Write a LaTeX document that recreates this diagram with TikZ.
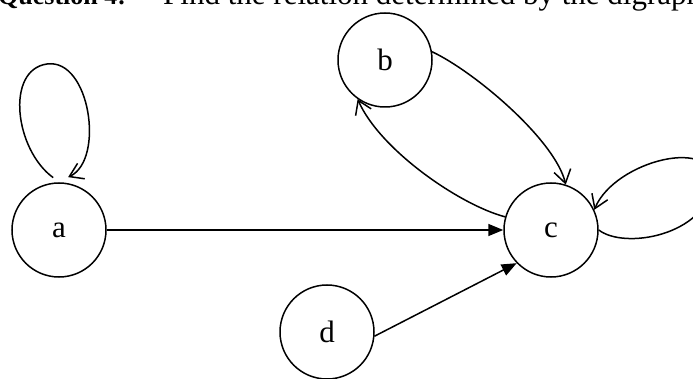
\documentclass[tikz,border=0pt]{standalone}
\usepackage{fontspec}
\setmainfont{Liberation Serif}
\usetikzlibrary{arrows.meta}
\begin{document}
\begin{tikzpicture}[x=1pt,y=-1pt,
  vertex/.style={draw,circle,minimum size=94pt,inner sep=0pt,line width=1.5pt,font=\fontsize{31}{31}\selectfont},
  conn/.style={line width=1.5pt},
  filledarrow/.style={conn,-{Triangle[length=15pt,width=12pt]}},
  openarrow/.style={conn,-{Straight Barb[length=13pt,width=17pt]}},
  titletext/.style={inner sep=0pt,font=\fontsize{31}{31}\selectfont}]
\useasboundingbox (0,0) rectangle (693,379);
\node[titletext,anchor=base west,font=\fontsize{26}{26}\selectfont\bfseries] (q) at (-2,5) {Question 4:};
\node[titletext,anchor=base west] (t) at (163,5) {Find the relation determined by the digraph};
\node[vertex] (a) at (59,230) {a};
\node[vertex] (b) at (385,60) {b};
\node[vertex] (c) at (551,230) {c};
\node[vertex] (d) at (327,332) {d};
\draw[filledarrow] (a) -- (c);
\draw[filledarrow] (d.-5) -- (c.224);
\draw[openarrow] (b.10) .. controls (475,72) and (555,140) .. (c.72);
\draw[openarrow] (c.164) .. controls (460,205) and (380,150) .. (b.235);
\draw[openarrow] ([yshift=5pt]a.97) .. controls (15,150) and (5,70) .. (47,64) .. controls (90,58) and (105,160) .. ([yshift=6pt]a.79);
\draw[openarrow] (c.east) .. controls (625,250) and (705,235) .. (712,185) .. controls (719,135) and (615,160) .. (c.25);
\end{tikzpicture}
\end{document}
